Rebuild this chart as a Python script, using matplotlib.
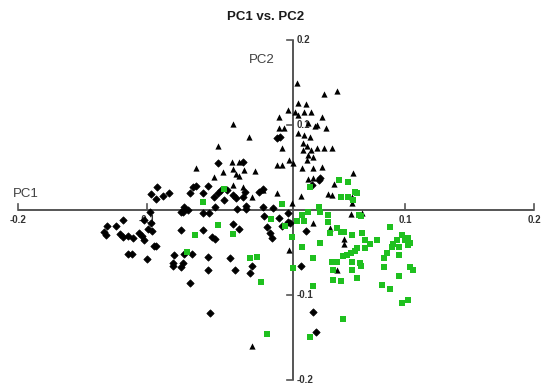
import matplotlib
matplotlib.use("Agg")
import matplotlib.pyplot as plt

plt.rcParams['font.family'] = ['Liberation Sans', 'DejaVu Sans']

title = "PC1 vs. PC2"
x_label = "PC1"
y_label = "PC2"
x_ticks = [-0.2, -0.1, 0.1, 0.2]
y_ticks = [0.2, 0.1, -0.1, -0.2]

# group 1: black diamonds
diamond_x = [-0.098, -0.102, -0.097, -0.119, -0.124, -0.131, -0.133, -0.132, -0.121, -0.119,
             -0.115, -0.111, -0.106, -0.104, -0.102, -0.099, -0.096, -0.095, -0.093, -0.115,
             -0.112, -0.100, -0.092, -0.097, -0.093, -0.088, -0.083, -0.074, -0.074, -0.072,
             -0.071, -0.068, -0.067, -0.064, -0.062, -0.057, -0.052, -0.047, -0.053, -0.057,
             -0.045, -0.038, -0.043, -0.045, -0.048, -0.040, -0.033, -0.031, -0.026, -0.024,
             -0.026, -0.033, -0.029, -0.030, -0.057, -0.050, -0.047, -0.080, -0.080, -0.079,
             -0.074, -0.072, -0.071, -0.065, -0.067, -0.053, -0.053, -0.036, -0.032, -0.020,
             -0.019, -0.051, 0.019, 0.029, 0.031, -0.010, -0.013, -0.010, -0.002, -0.009,
             -0.007, -0.005, -0.003, 0.002, 0.005, -0.023, -0.023, 0.003, 0.001, 0.033,
             0.034, 0.028, 0.009, 0.009, 0.011, 0.023]
diamond_y = [-0.003, -0.012, -0.016, -0.012, -0.019, -0.019, -0.026, -0.030, -0.029, -0.032,
             -0.031, -0.034, -0.028, -0.031, -0.036, -0.023, -0.025, -0.043, -0.043, -0.052,
             -0.052, -0.058, 0.026, 0.018, 0.012, 0.016, 0.019, -0.024, -0.003, -0.003,
             0.003, -0.001, 0.019, 0.026, 0.028, -0.004, -0.004, 0.003, 0.028, 0.019,
             0.055, 0.023, 0.023, 0.019, 0.015, 0.011, 0.017, 0.014, 0.056, 0.021,
             0.015, -0.017, -0.023, 0.001, -0.024, -0.032, -0.035, -0.063, -0.066, -0.054,
             -0.068, -0.063, -0.052, -0.052, -0.086, -0.056, -0.071, -0.057, -0.071, -0.075,
             -0.066, -0.122, -0.067, -0.121, -0.144, 0.024, 0.021, 0.003, 0.002, -0.008,
             -0.021, -0.028, -0.034, -0.010, -0.019, 0.001, 0.004, 0.085, 0.084, 0.035,
             0.037, 0.029, -0.004, -0.015, -0.016, -0.025]

# group 2: black triangles
triangle_x = [-0.033, -0.021, -0.045, -0.062, -0.048, -0.041, -0.034, -0.033, -0.029, -0.031,
              -0.025, -0.029, -0.016, -0.033, -0.026, -0.019, -0.010, -0.019, 0.016, 0.037,
              0.047, 0.009, 0.017, 0.023, 0.027, 0.022, 0.015, 0.017, 0.002, 0.036,
              0.006, 0.002, 0.032, 0.030, 0.039, 0.025, 0.017, 0.022, 0.026, 0.005,
              0.021, 0.024, 0.021, 0.027, 0.032, 0.037, 0.043, 0.025, 0.029, 0.024,
              0.013, 0.005, 0.001, 0.020, 0.029, 0.036, 0.029, 0.025, 0.040, 0.043,
              0.045, 0.060, 0.059, 0.059, 0.058, 0.067, 0.019, 0.012, 0.029, 0.042,
              0.053, 0.053, 0.010, 0.047, 0.001, 0.010]
triangle_y = [0.101, 0.085, 0.075, 0.049, 0.038, 0.044, 0.056, 0.048, 0.056, 0.042,
              0.046, 0.039, 0.045, 0.029, 0.026, 0.015, 0.023, -0.161, 0.149, 0.136,
              0.139, 0.117, 0.125, 0.124, 0.115, 0.115, 0.115, 0.111, 0.109, 0.109,
              0.096, 0.096, 0.099, 0.098, 0.096, 0.102, 0.090, 0.088, 0.085, 0.072,
              0.078, 0.075, 0.070, 0.070, 0.072, 0.072, 0.072, 0.064, 0.062, 0.058,
              0.055, 0.052, 0.052, 0.049, 0.049, 0.050, 0.037, 0.036, 0.018, 0.017,
              0.030, 0.043, 0.015, 0.008, -0.005, -0.004, 0.016, 0.008, -0.016, -0.022,
              -0.035, -0.041, -0.048, -0.071, 0.019, 0.058]

# group 3: green squares
square_x = [-0.057, -0.040, -0.045, -0.063, -0.033, -0.069, -0.020, -0.015, -0.012, -0.004,
            -0.007, 0.005, 0.007, 0.012, 0.049, 0.056, 0.061, 0.063, 0.050, 0.056,
            0.060, 0.026, 0.033, 0.034, 0.040, 0.025, 0.020, 0.016, 0.022, 0.040,
            0.042, 0.047, 0.050, 0.053, 0.059, 0.067, 0.064, 0.066, 0.034, 0.020,
            0.029, 0.043, 0.044, 0.047, 0.052, 0.055, 0.058, 0.061, 0.063, 0.069,
            0.073, 0.069, 0.059, 0.065, 0.066, 0.059, 0.063, 0.044, 0.050, 0.078,
            0.088, 0.086, 0.084, 0.084, 0.090, 0.091, 0.095, 0.095, 0.098, 0.100,
            0.102, 0.102, 0.104, 0.094, 0.104, 0.106, 0.095, 0.082, 0.088, 0.098,
            0.102, 0.029, 0.013, 0.052, 0.026]
square_y = [0.009, 0.024, -0.018, -0.030, -0.029, -0.050, -0.057, -0.056, -0.085, -0.011,
            -0.146, 0.006, -0.019, -0.032, 0.035, 0.032, 0.021, 0.019, 0.015, 0.015,
            0.011, 0.026, 0.003, -0.003, -0.006, -0.003, -0.006, -0.014, -0.014, -0.015,
            -0.028, -0.022, -0.026, -0.026, -0.030, -0.028, -0.006, -0.008, -0.039, -0.044,
            -0.057, -0.062, -0.071, -0.062, -0.055, -0.054, -0.051, -0.049, -0.045, -0.036,
            -0.041, -0.045, -0.062, -0.063, -0.066, -0.071, -0.081, -0.083, -0.084, -0.036,
            -0.021, -0.051, -0.057, -0.068, -0.044, -0.041, -0.044, -0.054, -0.030, -0.036,
            -0.034, -0.042, -0.039, -0.036, -0.068, -0.071, -0.078, -0.089, -0.094, -0.110,
            -0.106, -0.090, -0.069, -0.129, -0.150]

axis_color = "#555555"
label_color = "#404040"
green = "#1fc01f"
yaxis_x = 0.0128

fig = plt.figure(figsize=(5.41, 3.87), dpi=100)
ax = fig.add_axes([0, 0, 1, 1])
ax.set_xlim(-0.214, 0.2054)
ax.set_ylim(-0.2088, 0.2465)
ax.axis("off")

# axes lines
ax.plot([x_ticks[0], x_ticks[-1]], [0, 0], color=axis_color, lw=1.4, zorder=1, solid_capstyle="butt")
ax.plot([yaxis_x, yaxis_x], [y_ticks[-1], y_ticks[0]], color=axis_color, lw=1.4, zorder=1, solid_capstyle="butt")
for t in x_ticks:
    ax.plot([t, t], [0, 0.006], color=axis_color, lw=1.2, zorder=1)
    ax.text(t, -0.007, f"{t:g}", ha="center", va="top", fontsize=7,
            fontweight="bold", color="#333333", zorder=1)
for t in y_ticks:
    ax.plot([yaxis_x - 0.004, yaxis_x], [t, t], color=axis_color, lw=1.2, zorder=1)
    ax.text(yaxis_x + 0.003, t, f"{t:g}", ha="left", va="center", fontsize=7,
            fontweight="bold", color="#333333", zorder=1)

ax.text(-0.194, 0.018, x_label, ha="center", va="center", fontsize=9.5, color=label_color)
ax.text(-0.011, 0.176, y_label, ha="center", va="center", fontsize=9.5, color=label_color)
ax.text(-0.008, 0.226, title, ha="center", va="center", fontsize=9.5, fontweight="bold", color="#1a1a1a")

ax.scatter(diamond_x, diamond_y, marker="D", s=14, color="black", linewidths=0.5, edgecolors="black", zorder=3)
ax.scatter(triangle_x, triangle_y, marker="^", s=20, color="black", linewidths=0, zorder=3)
ax.scatter(square_x, square_y, marker="s", s=17, color=green, linewidths=0, zorder=3)

fig.savefig("out.png", dpi=100)
